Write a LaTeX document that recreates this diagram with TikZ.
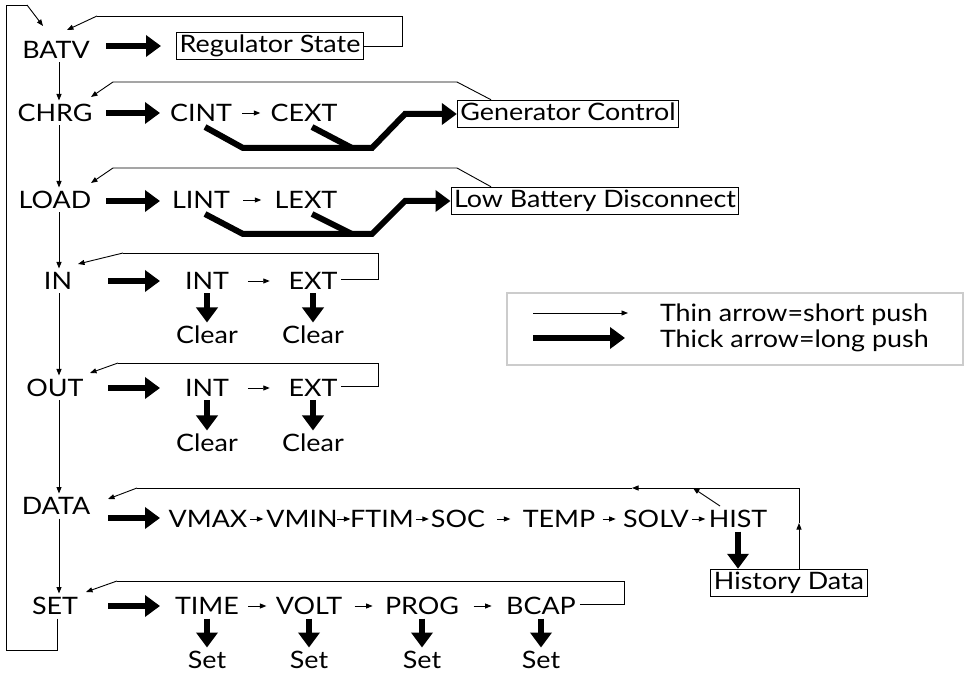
\documentclass[tikz,border=0pt]{standalone}
\usepackage{fontspec}
\setmainfont{Lato}[FakeStretch=1.12]
\usetikzlibrary{arrows.meta,calc}
\begin{document}
\begin{tikzpicture}[x=1pt,y=-1pt,
  lbl/.style={inner sep=1pt, outer sep=3pt, text height=17pt, text depth=0pt, font=\fontsize{24}{28}\selectfont},
  box/.style={draw, line width=1pt, inner xsep=3pt, inner ysep=3pt, text height=17pt, text depth=4.5pt, font=\fontsize{24}{28}\selectfont},
  thin/.style={line width=0.9pt, -{Triangle[length=6.5pt,width=5pt]}},
  plain/.style={line width=0.9pt},
  bigarrow/.style={line width=6pt, -{Triangle[length=15pt,width=21pt]}},
  bigline/.style={line width=6pt},
]
\useasboundingbox (0,0) rectangle (970,676);

% ---------- main column ----------
\node[lbl] (batv) at (56,50) {BATV};
\node[lbl] (chrg) at (55,113) {CHRG};
\node[lbl] (load) at (55,200) {LOAD};
\node[lbl] (in)   at (58,281) {IN};
\node[lbl] (out)  at (55,388) {OUT};
\node[lbl] (data) at (56,506) {DATA};
\node[lbl] (set)  at (55,606) {SET};

\coordinate (vx) at (59,0);
\draw[thin] (batv.south -| vx) -- (chrg.north -| vx);
\draw[thin] (chrg.south -| vx) -- (load.north -| vx);
\draw[thin] (load.south -| vx) -- (in.north -| vx);
\draw[thin] (in.south -| vx) -- (out.north -| vx);
\draw[thin] (out.south -| vx) -- (data.north -| vx);
\draw[thin] (data.south -| vx) -- (set.north -| vx);

% outer loop SET -> BATV
\coordinate (lp0) at (57,650);
\coordinate (lp1) at (6,650);
\coordinate (lp2) at (6,5);
\coordinate (lp3) at (27,5);
\coordinate (batvin) at (43,26);
\draw[plain] (set.south -| lp0) -- (lp0) -- (lp1) -- (lp2) -- (lp3);
\draw[thin] (lp3) -- (batvin);

% ---------- BATV row ----------
\node[box] (reg) at (270,46) {Regulator State};
\coordinate (ba1) at (106,46);
\coordinate (ba2) at (161,46);
\draw[bigarrow] (ba1) -- (ba2);
\coordinate (r1) at (402,16);
\coordinate (r2) at (97,16);
\coordinate (batvret) at (67,30);
\draw[plain] (reg.east) -| (r1) -- (r2);
\draw[thin] (r2) -- (batvret);

% ---------- CHRG row ----------
\node[lbl] (cint) at (201,113) {CINT};
\node[lbl] (cext) at (304,113) {CEXT};
\node[box] (gen) at (568,114) {Generator Control};
\draw[bigarrow] (106,113) -- (160,113);
\draw[thin] ($(cint.east)!0.5!(cext.west)+(-9,0)$) -- ++(18,0);
\coordinate (c1) at (205,127);
\coordinate (c2) at (243,148);
\coordinate (c3) at (372,148);
\coordinate (c4) at (405,114);
\coordinate (c5) at (312,127);
\coordinate (c6) at (352,148);
\draw[bigarrow, line join=miter] (c1) -- (c2) -- (c3) -- (c4) -- (c4 -| gen.west);
\draw[bigline] (c5) -- (c6);
\coordinate (g1) at (457,82);
\coordinate (g2) at (113,82);
\coordinate (chrgret) at (91,97);
\draw[plain] (gen.north -| 491,0) -- (g1) -- (g2);
\draw[thin] (g2) -- (chrgret);

% ---------- LOAD row ----------
\node[lbl] (lint) at (201,200) {LINT};
\node[lbl] (lext) at (306,200) {LEXT};
\node[box] (lbd) at (595,201) {Low Battery Disconnect};
\draw[bigarrow] (106,201) -- (160,201);
\draw[thin] ($(lint.east)!0.5!(lext.west)+(-9,0)$) -- ++(18,0);
\coordinate (l1) at (205,214);
\coordinate (l2) at (243,234);
\coordinate (l3) at (372,234);
\coordinate (l4) at (405,201);
\coordinate (l5) at (312,214);
\coordinate (l6) at (352,234);
\draw[bigarrow, line join=miter] (l1) -- (l2) -- (l3) -- (l4) -- (l4 -| lbd.west);
\draw[bigline] (l5) -- (l6);
\coordinate (b1) at (457,168);
\coordinate (b2) at (113,168);
\coordinate (loadret) at (91,183);
\draw[plain] (lbd.north -| 491,0) -- (b1) -- (b2);
\draw[thin] (b2) -- (loadret);

% ---------- IN row ----------
\node[lbl] (inint) at (207,281) {INT};
\node[lbl] (inext) at (313,281) {EXT};
\node[lbl] (inc1) at (207,335) {Clear};
\node[lbl] (inc2) at (313,335) {Clear};
\draw[bigarrow] (108,281) -- (160,281);
\draw[thin] ($(inint.east)!0.5!(inext.west)+(-11,0)$) -- ++(22,0);
\draw[bigarrow] (inint.south) -- (inc1.north);
\draw[bigarrow] (inext.south) -- (inc2.north);
\coordinate (i1) at (378,279);
\coordinate (i2) at (378,253);
\coordinate (i3) at (123,253);
\coordinate (inret) at (78,264);
\draw[plain] (inext.east |- i1) -- (i1) -- (i2) -- (i3);
\draw[thin] (i3) -- (inret);

% ---------- OUT row ----------
\node[lbl] (oint) at (207,388) {INT};
\node[lbl] (oext) at (313,388) {EXT};
\node[lbl] (oc1) at (207,443) {Clear};
\node[lbl] (oc2) at (313,443) {Clear};
\draw[bigarrow] (108,388) -- (160,388);
\draw[thin] ($(oint.east)!0.5!(oext.west)+(-11,0)$) -- ++(22,0);
\draw[bigarrow] (oint.south) -- (oc1.north);
\draw[bigarrow] (oext.south) -- (oc2.north);
\coordinate (o1) at (378,386);
\coordinate (o2) at (378,363);
\coordinate (o3) at (118,363);
\coordinate (outret) at (90,373);
\draw[plain] (oext.east |- o1) -- (o1) -- (o2) -- (o3);
\draw[thin] (o3) -- (outret);

% ---------- DATA row ----------
\node[lbl] (vmax) at (208,519) {VMAX};
\node[lbl] (vmin) at (302,519) {VMIN};
\node[lbl] (ftim) at (382,519) {FTIM};
\node[lbl] (soc)  at (458,519) {SOC};
\node[lbl] (temp) at (559,519) {TEMP};
\node[lbl] (solv) at (656,519) {SOLV};
\node[lbl] (hist) at (738,519) {HIST};
\node[box] (hd)   at (789,583) {History Data};
\draw[bigarrow] (108,518) -- (160,518);
\foreach \a/\b in {vmax/vmin,vmin/ftim,ftim/soc,soc/temp,temp/solv,solv/hist}
  \draw[thin] ($(\a.east)!0.5!(\b.west)+(-6.5,0)$) -- ++(13,0);
\draw[bigarrow] (hist.south -| 738,0) -- (hd.north -| 738,0);
\coordinate (d1) at (799,523);
\coordinate (d2) at (799,488);
\coordinate (d3) at (632,488);
\coordinate (d4) at (137,488);
\coordinate (dataret) at (108,499);
\coordinate (hj) at (693,488);
\draw[thin] (hd.north -| d1) -- (d1);
\draw[thin] (d1) -- (d2) -- (d3);
\draw[plain] (d3) -- (d4);
\draw[thin] (d4) -- (dataret);
\draw[thin] (720,506) -- (hj);

% ---------- SET row ----------
\node[lbl] (time) at (207,606) {TIME};
\node[lbl] (volt) at (309,606) {VOLT};
\node[lbl] (prog) at (422,606) {PROG};
\node[lbl] (bcap) at (541,606) {BCAP};
\node[lbl] (s1) at (207,660) {Set};
\node[lbl] (s2) at (309,660) {Set};
\node[lbl] (s3) at (422,660) {Set};
\node[lbl] (s4) at (541,660) {Set};
\draw[bigarrow] (108,606) -- (160,606);
\foreach \a/\b in {time/volt,volt/prog,prog/bcap}
  \draw[thin] ($(\a.east)!0.5!(\b.west)+(-9,0)$) -- ++(18,0);
\foreach \a/\b in {time/s1,volt/s2,prog/s3,bcap/s4}
  \draw[bigarrow] (\a.south) -- (\b.north);
\coordinate (t1) at (624,604);
\coordinate (t2) at (624,581);
\coordinate (t3) at (117,581);
\coordinate (setret) at (86,592);
\draw[plain] (bcap.east |- t1) -- (t1) -- (t2) -- (t3);
\draw[thin] (t3) -- (setret);

% ---------- legend ----------
\node[draw=black!20, line width=2.5pt, minimum width=456pt, minimum height=72pt, inner sep=0pt] (legend) at (735,329) {};
\coordinate (la) at (533,313);
\coordinate (lb) at (628,313);
\coordinate (lc) at (533,338);
\coordinate (ld) at (625,338);
\draw[thin] (la) -- (lb);
\draw[bigarrow] (lc) -- (ld);
\node[lbl, anchor=west, outer sep=0pt] (lt1) at (659,313) {Thin arrow=short push};
\node[lbl, anchor=west, outer sep=0pt] (lt2) at (659,339) {Thick arrow=long push};
\end{tikzpicture}
\end{document}
